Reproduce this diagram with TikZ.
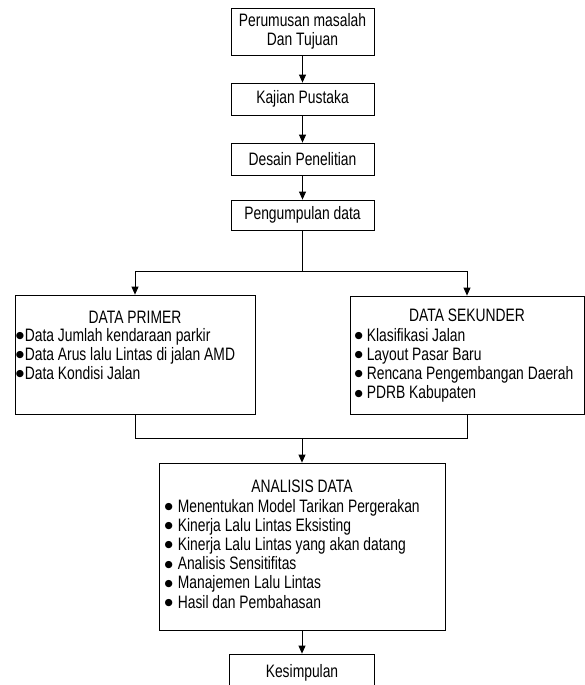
\documentclass[tikz,border=0pt]{standalone}
\usepackage{fontspec}
\setmainfont{Liberation Sans}[FakeStretch=0.77]
\newfontfamily\bltfont{DejaVu Sans}
\usepackage{tikz}
\usetikzlibrary{positioning,arrows.meta}

\newcommand{\blt}[1]{\raisebox{2.6pt}{\bltfont\fontsize{9.5}{9.5}\selectfont ●}\hspace{#1}}

\begin{document}
\begin{tikzpicture}[x=1pt,y=1pt,node distance=60pt,on grid,
    >={Triangle[length=8pt,width=7pt]},line width=0.8pt,
    every node/.style={font=\fontsize{18}{19.2}\selectfont}]
        \tikzstyle{box}=[draw,rectangle,align=center,inner sep=0pt]
        \tikzstyle{title}=[anchor=base,inner sep=0pt]
        \tikzstyle{items}=[anchor=north west,align=left,inner sep=0pt]
        \useasboundingbox (0,0) rectangle (585,-685);
        % alur atas
        \node[box,minimum width=143pt,minimum height=47pt] (Rm) at (302.5,-31.5) {Perumusan masalah\\Dan Tujuan};
        \node[box,minimum width=143pt,minimum height=32pt] (Kp) [below=67.5pt of Rm] {Kajian Pustaka};
        \node[box,minimum width=143pt,minimum height=32pt] (Dp) [below=60pt of Kp] {Desain Penelitian};
        \node[box,minimum width=143pt,minimum height=30pt] (Pd) [below=56pt of Dp] {Pengumpulan data};
        % data primer dan sekunder
        \node[box,minimum width=240pt,minimum height=119pt] (Dpr) [below left=139.5pt and 167.5pt of Pd] {};
        \node[title] (DprT) at ([yshift=-29pt]Dpr.north) {DATA PRIMER};
        \node[items] (DprL) at ([xshift=1pt,yshift=-33pt]Dpr.north west)
            {\blt{0.5pt}Data Jumlah kendaraan parkir\\\blt{0.5pt}Data Arus lalu Lintas di jalan AMD\\\blt{0.5pt}Data Kondisi Jalan};
        \node[box,minimum width=234pt,minimum height=118pt] (Dsk) [below right=140pt and 164.5pt of Pd] {};
        \node[title] (DskT) at ([yshift=-26pt]Dsk.north) {DATA SEKUNDER};
        \node[items] (DskL) at ([xshift=4.5pt,yshift=-32pt]Dsk.north west)
            {\blt{4pt}Klasifikasi Jalan\\\blt{4pt}Layout Pasar Baru\\\blt{4pt}Rencana Pengembangan Daerah\\\blt{4pt}PDRB Kabupaten};
        % analisis
        \node[box,minimum width=286pt,minimum height=167pt] (An) at (302,-546.5) {};
        \node[title] (AnT) at ([yshift=-30pt]An.north) {ANALISIS DATA};
        \node[items] (AnL) at ([xshift=5.5pt,yshift=-36pt]An.north west)
            {\blt{5pt}Menentukan Model Tarikan Pergerakan\\\blt{5pt}Kinerja Lalu Lintas Eksisting\\\blt{5pt}Kinerja Lalu Lintas yang akan datang\\\blt{5pt}Analisis Sensitifitas\\\blt{5pt}Manajemen Lalu Lintas\\\blt{5pt}Hasil dan Pembahasan};
        \node[box,minimum width=145pt,minimum height=37.5pt] (Ks) [below=126.25pt of An] {Kesimpulan};
        % penghubung
        \path[->]
        (Rm) edge (Kp)
        (Kp) edge (Dp)
        (Dp) edge (Pd);
        \coordinate[below=41pt of Pd.south] (split);
        \draw (Pd) -- (split);
        \draw[->] (split) -| (Dpr);
        \draw[->] (split) -| (Dsk);
        \coordinate[below=24pt of Dpr.south] (join);
        \coordinate (merge) at (An.north |- join);
        \draw (Dpr) -- (join) -| (Dsk);
        \draw[->] (merge) -- (An);
        \draw[->] (An) -- (Ks);
    \end{tikzpicture}
\end{document}
